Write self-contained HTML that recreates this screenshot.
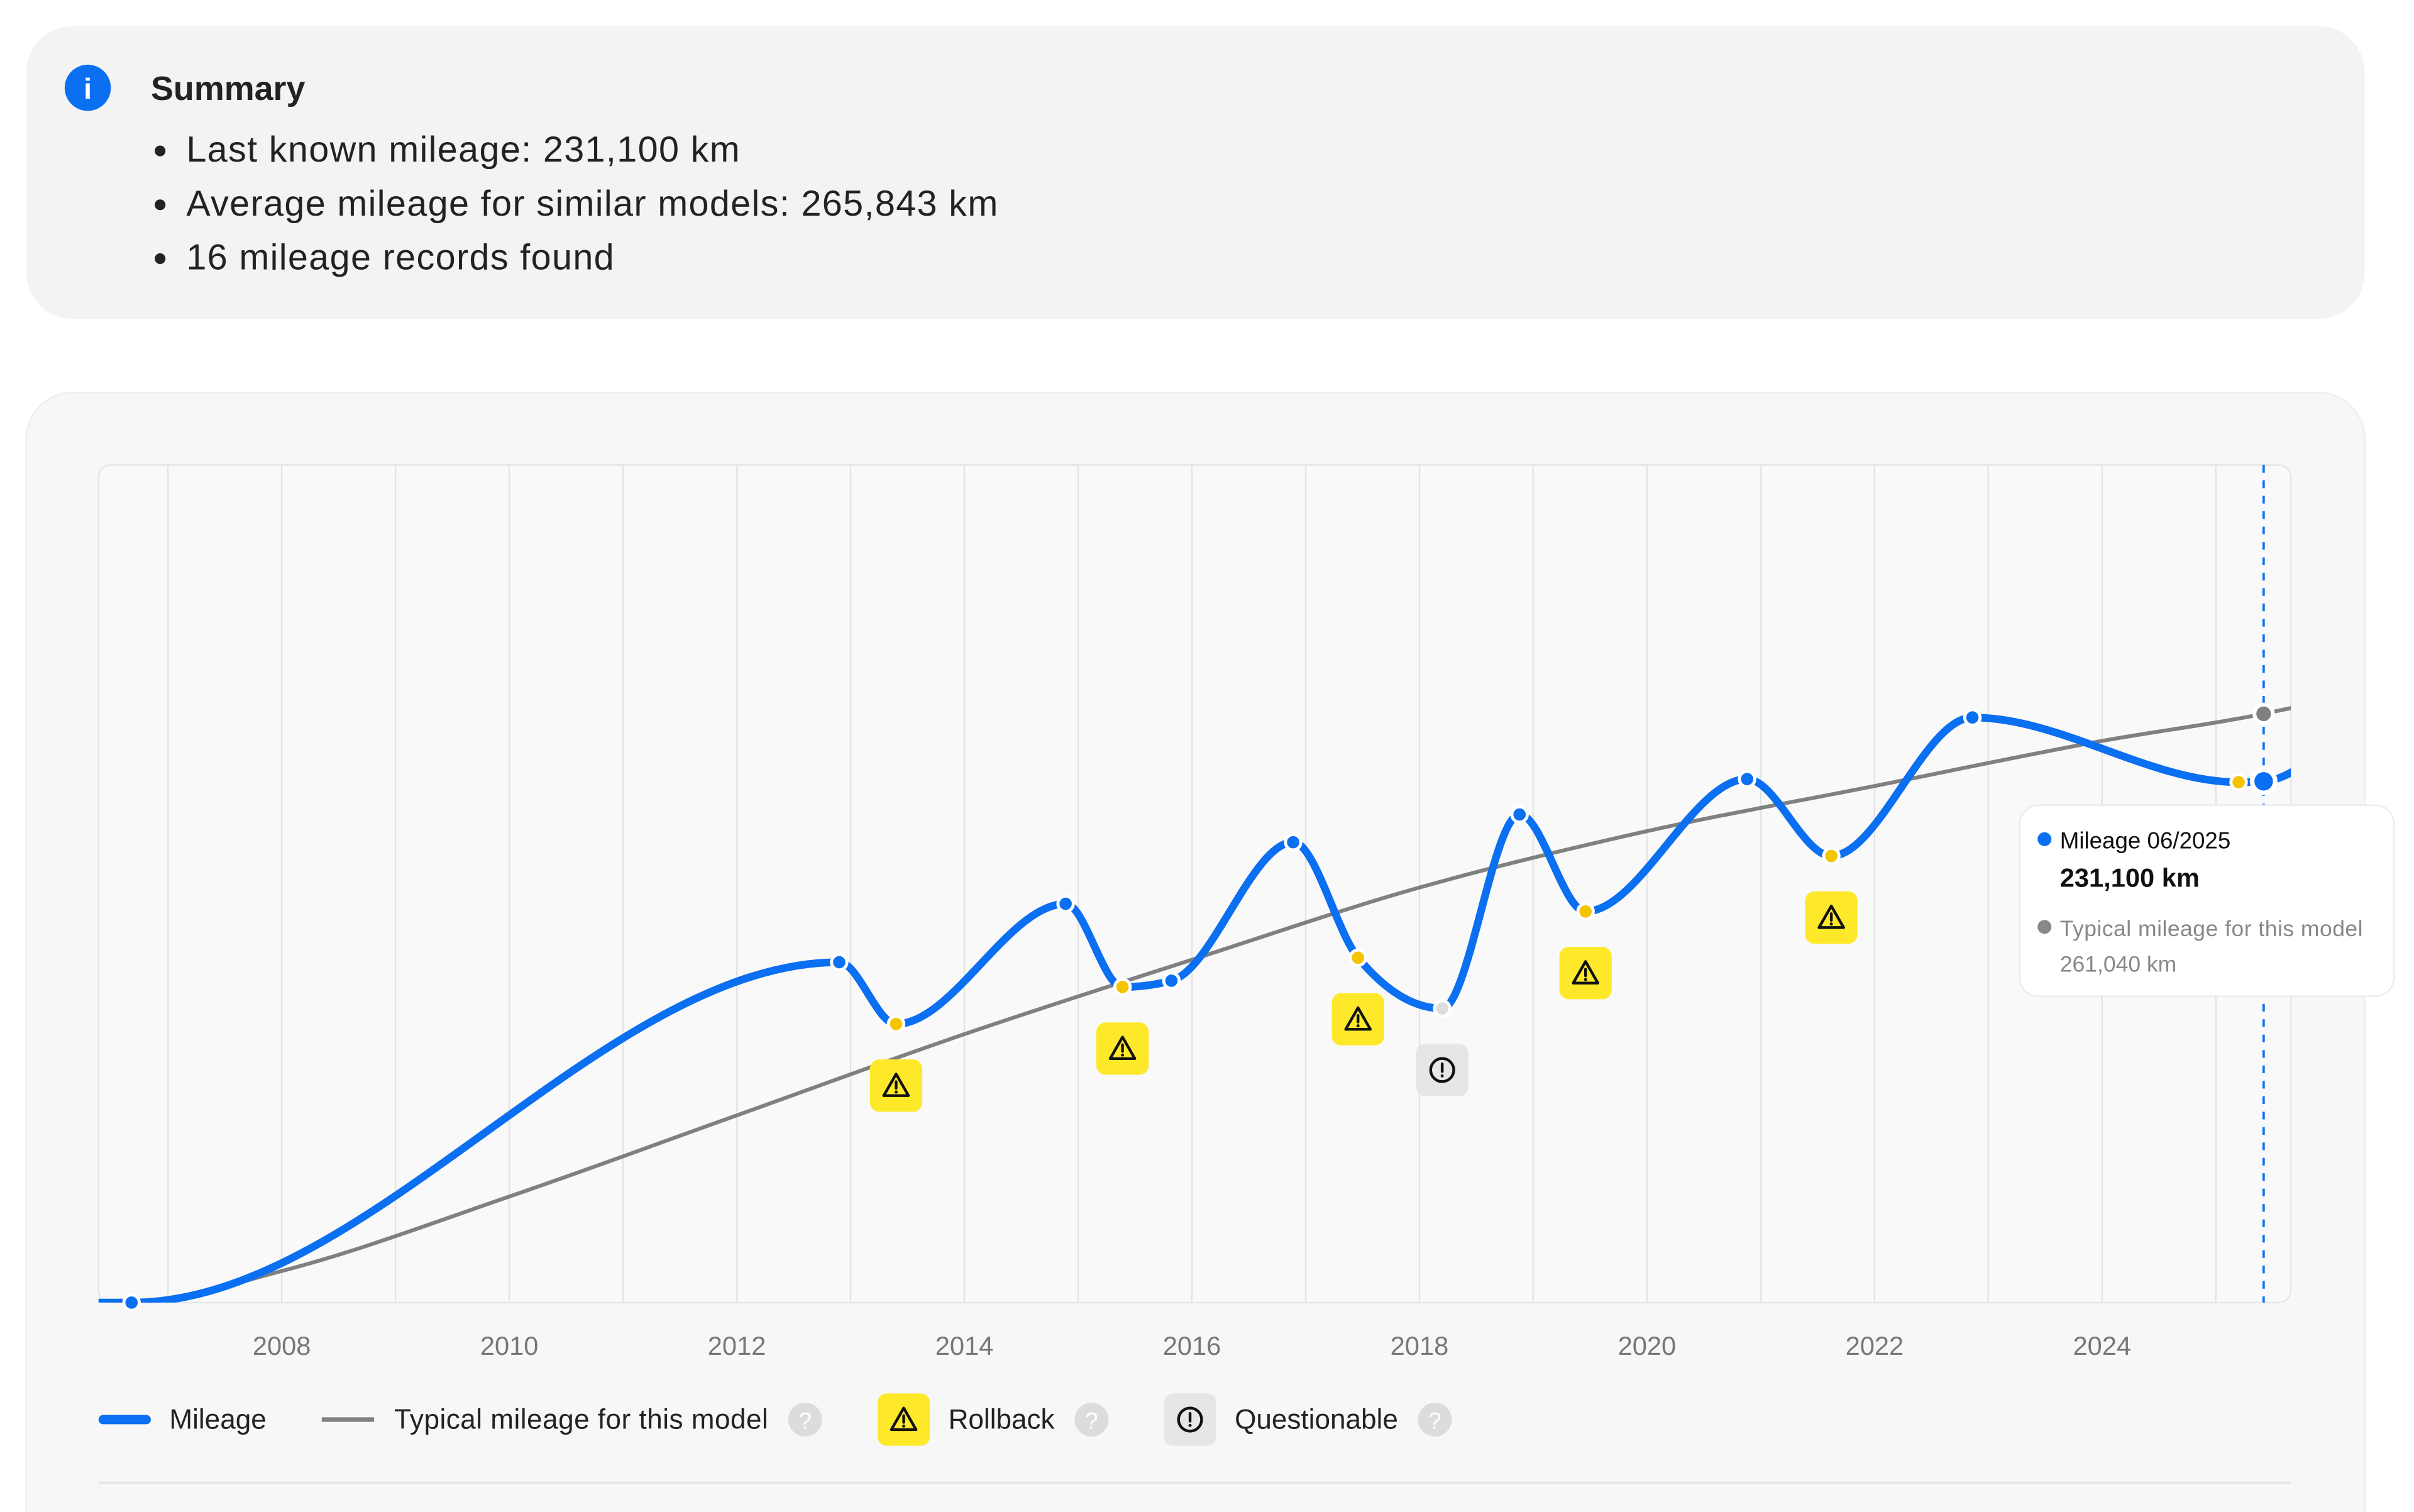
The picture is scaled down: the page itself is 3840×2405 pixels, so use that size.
<!DOCTYPE html>
<html><head><meta charset="utf-8"><style>
html,body{margin:0;padding:0;background:#fff;}
svg{display:block;font-family:"Liberation Sans",sans-serif;}
</style></head><body>
<svg id="root" width="3840" height="2405" viewBox="0 0 1568 982" xmlns="http://www.w3.org/2000/svg">
<defs>
<clipPath id="plotclip"><rect x="64" y="302" width="1424" height="544"/></clipPath>
<symbol id="warn" viewBox="0 0 20 20"><path d="M10 2.5 L18 16.5 H2 Z" fill="none" stroke="#111" stroke-width="1.8" stroke-linejoin="round"/><line x1="10" y1="7.5" x2="10" y2="11.8" stroke="#111" stroke-width="1.8" stroke-linecap="round"/><circle cx="10" cy="14.2" r="1" fill="#111"/></symbol>
<symbol id="quest" viewBox="0 0 20 20"><circle cx="10" cy="10" r="7.5" fill="none" stroke="#111" stroke-width="1.8"/><line x1="10" y1="6" x2="10" y2="11" stroke="#111" stroke-width="1.8" stroke-linecap="round"/><circle cx="10" cy="13.8" r="1" fill="#111"/></symbol>
</defs>
<g>
<rect x="17" y="17" width="1519" height="190" rx="30" fill="#f3f3f3"/>
<circle cx="57" cy="57" r="15" fill="#0a6ff0"/>
<text x="57" y="64" text-anchor="middle" font-size="19" font-weight="bold" fill="#fff">i</text>
<text x="98" y="65" font-size="22" font-weight="bold" fill="#222">Summary</text>
<g font-size="23.5" letter-spacing="0.55" fill="#222">
<circle cx="104" cy="98" r="3.5" fill="#222"/><text x="121" y="105">Last known mileage: 231,100 km</text>
<circle cx="104" cy="133" r="3.5" fill="#222"/><text x="121" y="140">Average mileage for similar models: 265,843 km</text>
<circle cx="104" cy="168" r="3.5" fill="#222"/><text x="121" y="175">16 mileage records found</text>
</g>
</g>
<g>
<rect x="17" y="255" width="1519" height="760" rx="30" fill="#f7f7f7" stroke="#eeeeee"/>
<rect x="64" y="302" width="1424" height="544" rx="8" fill="#f9f9f9" stroke="#e6e6e6"/>
</g>
<g id="grid"></g>
<g id="xticks"></g>
<g id="series" clip-path="url(#plotclip)"></g>
<g id="marks"></g>
<g>
<rect x="1312" y="523" width="243" height="124" rx="12" fill="#fff" stroke="#ececec"/>
<circle cx="1328" cy="545" r="4.5" fill="#0a6ff0"/>
<text x="1338" y="551" font-size="15" fill="#111">Mileage 06/2025</text>
<text x="1338" y="576" font-size="17" font-weight="bold" fill="#111">231,100 km</text>
<circle cx="1328" cy="602" r="4.5" fill="#888"/>
<text x="1338" y="608" font-size="14.5" fill="#888" letter-spacing="0.2">Typical mileage for this model</text>
<text x="1338" y="631" font-size="14.5" fill="#888">261,040 km</text>
</g>
<g>
<g><line x1="67" y1="922" x2="95" y2="922" stroke="#0a6ff0" stroke-width="6" stroke-linecap="round"/><text x="110" y="928" font-size="18" fill="#222">Mileage</text></g>
<g><line x1="209" y1="922" x2="243" y2="922" stroke="#808080" stroke-width="3"/><text x="256" y="928" font-size="18" fill="#222" letter-spacing="0.2">Typical mileage for this model</text></g>
<g><circle cx="523" cy="922" r="11" fill="#dcdcdc"/><text x="523" y="928" text-anchor="middle" font-size="15" fill="#fff">?</text></g>
<g><rect x="570" y="905" width="34" height="34" rx="6" fill="#fde92a"/><use href="#warn" x="577" y="912" width="20" height="20"/><text x="616" y="928" font-size="18" fill="#222">Rollback</text></g>
<g><circle cx="709" cy="922" r="11" fill="#dcdcdc"/><text x="709" y="928" text-anchor="middle" font-size="15" fill="#fff">?</text></g>
<g><rect x="756" y="905" width="34" height="34" rx="6" fill="#e6e6e6"/><use href="#quest" x="763" y="912" width="20" height="20"/><text x="802" y="928" font-size="18" fill="#222">Questionable</text></g>
<g><circle cx="932" cy="922" r="11" fill="#dcdcdc"/><text x="932" y="928" text-anchor="middle" font-size="15" fill="#fff">?</text></g>
</g>
<line x1="64" y1="963" x2="1488" y2="963" stroke="#e6e6e6" stroke-width="1.5"/>
</svg>
<script>
const mileageDates = [2006.68, 2012.9, 2013.4, 2014.89, 2015.39, 2015.82, 2016.89, 2017.46, 2018.2, 2018.88, 2019.46, 2020.88, 2021.62, 2022.86, 2025.2, 2025.42];
const mileageValues = [0, 150900, 123500, 176800, 139900, 142700, 204100, 152900, 130400, 216400, 173400, 232100, 198000, 259400, 230700, 231100];
const mileageFlags = ["ok","ok","rollback","ok","rollback","ok","ok","rollback","questionable","ok","rollback","ok","rollback","ok","rollback","ok"];
const typicalDates = [2006.68, 2008, 2010, 2012, 2014, 2016, 2018, 2020, 2022, 2024, 2025.42, 2025.7];
const typicalValues = [0, 14000, 47000, 83000, 119000, 152000, 184000, 209000, 229000, 249000, 261040, 264000];
const gridYears = [2007,2008,2009,2010,2011,2012,2013,2014,2015,2016,2017,2018,2019,2020,2021,2022,2023,2024,2025];
const tickLabels = ["2008","2010","2012","2014","2016","2018","2020","2022","2024"];

const NS = "http://www.w3.org/2000/svg";
function xs(yr){ return 183 + (yr - 2008) * 73.9; }
function ys(v){ return 846 - v * 0.001465; }
function mk(tag, attrs, parent){ const e=document.createElementNS(NS,tag); for(const k in attrs) e.setAttribute(k,attrs[k]); parent.appendChild(e); return e; }

const grid=document.getElementById('grid');
gridYears.forEach(y=>{
  const l=mk('line',{x1:xs(y),x2:xs(y),y1:302,y2:846,stroke:'#e4e4e4','stroke-width':1},grid);
  
  
});
const xt=document.getElementById('xticks');
tickLabels.forEach(t=>{
  const e=mk('text',{x:xs(+t),y:880,'text-anchor':'middle','font-size':17,fill:'#777'},xt);
  e.textContent=t;
  
  
});

function monotonePath(px,py,flatStart){
  const n=px.length, d=[], m=[];
  for(let i=0;i<n-1;i++) d.push((py[i+1]-py[i])/(px[i+1]-px[i]));
  for(let i=0;i<n;i++){
    if(i===0) m.push(d[0]); else if(i===n-1) m.push(d[n-2]);
    else if(d[i-1]*d[i]<=0) m.push(0);
    else { const h0=px[i]-px[i-1], h1=px[i+1]-px[i]; const p=(d[i-1]*h1+d[i]*h0)/(h0+h1); m.push(Math.sign(p)*Math.min(Math.abs(p),2*Math.abs(d[i-1]),2*Math.abs(d[i]))); }
  }
  if(n>2){ m[0]=(3*d[0]-m[1])/2; m[n-1]=(3*d[n-2]-m[n-2])/2; }
  if(flatStart) m[0]=0;
  let s=`M${px[0]},${py[0]}`;
  for(let i=0;i<n-1;i++){ const h=(px[i+1]-px[i])/3; s+=` C${px[i]+h},${py[i]+m[i]*h} ${px[i+1]-h},${py[i+1]-m[i+1]*h} ${px[i+1]},${py[i+1]}`; }
  return s;
}
const series=document.getElementById('series');
const tx=typicalDates.map(xs), ty=typicalValues.map(ys);
const tl=mk('path',{d:monotonePath(tx,ty,true),fill:'none',stroke:'#808080','stroke-width':2.5},series);


const mx=mileageDates.map(xs), my=mileageValues.map(ys);
const ml=mk('path',{d:`M60,${my[0]} L`+monotonePath(mx,my,true).slice(1)+` C1476,${my[my.length-1]} 1484,${my[my.length-1]-3} 1492,${my[my.length-1]-8}`,fill:'none',stroke:'#0a6ff0','stroke-width':5,'stroke-linejoin':'round'},series);



const marks=document.getElementById('marks');
const last=mileageDates.length-1;
const cx=xs(mileageDates[last]);
const dl=mk('line',{x1:cx,x2:cx,y1:302,y2:846,stroke:'#0a6ff0','stroke-width':1.5,'stroke-dasharray':'5,5'},marks);


mileageDates.forEach((d,i)=>{
  const f=mileageFlags[i];
  const fill=f==='rollback'?'#f5c400':f==='questionable'?'#dddddd':'#0a6ff0';
  const big=i===last;
  const c=mk('circle',{cx:xs(d),cy:ys(mileageValues[i]),r:big?7.5:5,fill:fill,stroke:'#fff','stroke-width':big?3:2},marks);
  
  
  if((f==='rollback'||f==='questionable') && i!==last-1){
    const bx=xs(d)-17, by=ys(mileageValues[i])+40-17;
    const r=mk('rect',{x:bx,y:by,width:34,height:34,rx:6,fill:f==='rollback'?'#fde92a':'#e6e6e6'},marks);
    
    
    mk('use',{href:f==='rollback'?'#warn':'#quest',x:bx+7,y:by+7,width:20,height:20},marks);
  }
});
const tIdx=10;
const tp=mk('circle',{cx:xs(typicalDates[tIdx]),cy:ys(typicalValues[tIdx]),r:6,fill:'#808080',stroke:'#fff','stroke-width':2.5},marks);


</script>
</body></html>
